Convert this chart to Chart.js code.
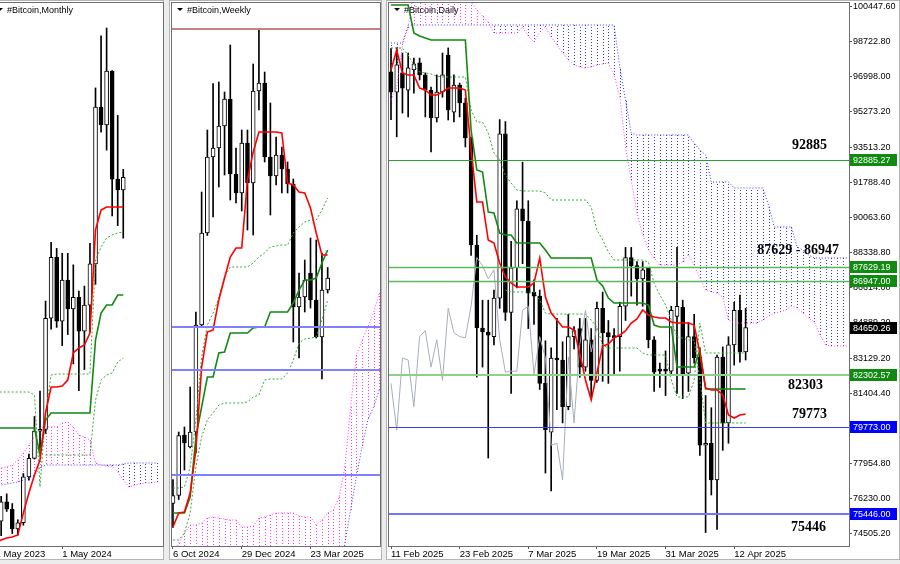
<!DOCTYPE html>
<html>
<head>
<meta charset="utf-8">
<title>#Bitcoin Ichimoku</title>
<script src="https://cdn.jsdelivr.net/npm/chart.js@4.4.1/dist/chart.umd.min.js"></script>
<style>
  html, body { margin: 0; padding: 0; }
  body { width: 900px; height: 564px; background: #ececec; position: relative; overflow: hidden; }
  .panel { position: absolute; top: 0; height: 560px; background: #fff; box-shadow: inset 0 0 0 1px #b4b4b4; }
  .panel canvas { position: absolute; left: 0; top: 0; }
</style>
</head>
<body>
<div class="panel" style="left:-10px;width:174px"><canvas id="monthly" width="174" height="560"></canvas></div>
<div class="panel" style="left:169px;width:213px"><canvas id="weekly" width="213" height="560"></canvas></div>
<div class="panel" style="left:386px;width:514px"><canvas id="daily" width="514" height="560"></canvas></div>
<script>
// ---------- Monthly: May 2023 .. Apr 2025 (cloud runs on to Oct 2025) ----------
const mTickIdx = [0, 12];
const mTickText = ['1 May 2023', '1 May 2024'];
const mOpen  = [29250, 27220, 30480, 29230, 25930, 26970, 34640, 37720, 42280, 42580, 61130, 71290, 60640, 67490, 62680, 64620, 58970, 63330, 70220, 96410, 93430, 102400, 84350, 82550];
const mHigh  = [29820, 31390, 31800, 30180, 27480, 35200, 38430, 44720, 48970, 63990, 73790, 72800, 71980, 71960, 70050, 65650, 66500, 73620, 99590, 108300, 109600, 102500, 95000, 86000];
const mLow   = [25810, 24800, 28860, 25170, 24900, 26560, 34100, 37620, 38520, 41880, 59320, 59600, 56560, 58400, 53500, 49050, 52550, 58900, 66800, 92200, 89200, 78200, 76600, 74500];
const mClose = [27220, 30480, 29230, 25930, 26970, 34640, 37720, 42280, 42580, 61130, 71290, 60640, 67490, 62680, 64620, 58970, 63330, 70220, 96410, 93430, 102400, 84350, 82550, 84650];
const mTenkan = [23595, 24096, 24430, 24597, 24931, 28605, 31945, 34951, 37456, 45305, 49647, 49647, 49814, 50816, 55325, 56160, 56661, 58665, 75866, 79206, 79707, 79707, 79707, 79707];
const mKijun  = [42800, 42800, 42800, 42800, 42800, 42800, 42800, 42800, 38291, 44136, 45305, 45305, 45305, 45305, 45305, 45305, 45305, 45305, 57496, 62005, 63341, 63341, 65011, 65011];
const mSpanA = [35953, 36120, 36287, 36621, 37456, 38625, 39961, 41297, 42800, 42967, 42967, 42967, 43635, 43802, 42967, 41631, 41297, 40796, 36955, 36621, 36454, 36454, 35452, 34116, 32947, 33281, 33448, 33615, 33615, 33782];
const mSpanB = [33114, 33281, 33448, 33615, 33782, 34116, 34450, 34951, 36120, 36621, 36621, 36621, 36621, 36621, 36621, 36621, 36621, 36621, 36621, 36621, 36621, 36621, 36621, 36788, 36955, 36955, 36955, 36955, 36955, 36955];
const mDot1 = [48812, 48812, 48812, 48812, 48812, 48812, 48812, 48311, 32947, 45305, 51651, 51818, 51818, 51818, 51818, 51818, 51818, 51818, 70856, 73027, 74530, 75031, 75365, 75532];
const mDot2 = [null, null, null, null, null, null, null, null, null, 38291, 38291, 38291, 38291, 38291, 38291, 38291, 38291, 38291, 47476, 50816, 51651, 51985, 53822, 54490];

// ---------- Weekly: 6 Oct 2024 .. 13 Apr 2025 ----------
const wTickIdx = [0, 12, 24];
const wTickText = ['6 Oct 2024', '29 Dec 2024', '23 Mar 2025'];
const wOpen  = [62100, 62900, 68950, 67750, 69250, 79950, 89150, 96750, 97650, 99850, 102550, 95050, 93150, 98150, 94150, 103350, 104150, 96750, 94850, 96950, 95550, 94050, 81750, 82750, 85150, 82450, 78750, 83450];
const wHigh  = [64500, 69250, 69750, 73750, 81250, 93250, 99450, 104100, 104250, 103250, 107950, 97650, 99450, 99450, 106050, 109550, 105250, 102150, 98750, 97750, 96250, 94550, 85150, 86450, 88650, 88450, 87150, 85700];
const wLow   = [59700, 62500, 65450, 67650, 67150, 79700, 88900, 90750, 93750, 94950, 92450, 92150, 91350, 89450, 88950, 101450, 96250, 90950, 93950, 93150, 93150, 78250, 76650, 81250, 81650, 78650, 74550, 83150];
const wClose = [62900, 68900, 68150, 69250, 79950, 89150, 96750, 97650, 99850, 102550, 95050, 93150, 98150, 94150, 103350, 104150, 96750, 94850, 96950, 95550, 94050, 81750, 82750, 84450, 82450, 78750, 83450, 84650];
const wTenkan = [59750, 61150, 61250, 63150, 67450, 75750, 79250, 79450, 82450, 84650, 86750, 87650, 87650, 94450, 97250, 99250, 99250, 99250, 99250, 99150, 94150, 93950, 93250, 93150, 91650, 89150, 86950, 86950];
const wKijun  = [61150, 61150, 61150, 62750, 68750, 71750, 74750, 74750, 77150, 77250, 79150, 79150, 79150, 79150, 79650, 79750, 79750, 81250, 81250, 81250, 81250, 82150, 83450, 84450, 84450, 84650, 86150, 87450];
const wSpanA = [56450, 58150, 59150, 59950, 59950, 60150, 60650, 60750, 60650, 60550, 60450, 60450, 59750, 59750, 59850, 60650, 60750, 60950, 61150, 61150, 61150, 61150, 60850, 60750, 60750, 59950, 60450, 61150, 61450, 62750, 65750, 71750, 76950, 78450, 79750, 81150, 83150];
const wSpanB = [52000, 52000, 52000, 52000, 52000, 52000, 52000, 52000, 52000, 52000, 52000, 52000, 52000, 52000, 52000, 52000, 52000, 52000, 52000, 52000, 52000, 52000, 52000, 52000, 52000, 52000, 52000, 52000, 52000, 52000, 58150, 61450, 64750, 67750, 70450, 71750, 73450];
const wDot1 = [63650, 63650, 63750, 65750, 70450, 76750, 79950, 81150, 82650, 84750, 85750, 85750, 85750, 85750, 86150, 86750, 87150, 87750, 87850, 87950, 87950, 89150, 89750, 90250, 90450, 90450, 91450, 92650];
const wDot2 = [58450, 58450, 59150, 61150, 65750, 68750, 70450, 71150, 71950, 72150, 72150, 72150, 72150, 72250, 72750, 72950, 74450, 74550, 74550, 74550, 75150, 76450, 78150, 78550, 78650, 78750, 80450, 82450];
const wLevels = [109550, 79773, 75446, 64950];

// ---------- Daily: 11 Feb 2025 .. 14 Apr 2025 (cloud runs on to 2 May) ----------
const dTickIdx = [0, 12, 24, 36, 48, 60];
const dTickText = ['11 Feb 2025', '23 Feb 2025', '7 Mar 2025', '19 Mar 2025', '31 Mar 2025', '12 Apr 2025'];
const dOpen  = [97250, 96250, 97200, 96350, 97350, 97700, 97100, 96350, 94980, 96260, 98080, 95270, 96600, 95720, 93990, 88720, 84630, 84430, 84200, 86100, 94200, 85400, 87600, 90500, 89900, 86400, 86200, 81900, 79500, 83150, 83050, 80750, 84200, 84600, 82700, 84050, 82050, 85600, 84400, 84250, 84200, 85700, 88100, 87700, 87050, 87600, 84050, 82600, 82600, 82500, 85200, 85650, 82400, 84200, 83200, 78850, 78950, 77140, 83200, 79950, 83800, 85500, 83450];
const dHigh  = [98400, 98430, 98180, 98180, 97930, 97930, 97200, 96500, 97100, 98180, 98430, 97100, 96700, 95960, 94040, 89200, 86000, 86000, 86500, 94900, 94800, 88900, 90900, 92800, 90900, 87000, 86500, 84000, 83650, 85100, 83950, 85300, 84700, 85100, 85100, 84600, 85900, 86400, 85000, 84600, 85900, 88600, 88600, 87900, 87900, 87600, 84200, 82900, 83500, 85700, 88600, 86000, 84900, 85300, 83650, 81300, 80700, 83300, 83700, 84200, 85900, 86250, 85600];
const dLow   = [94900, 94050, 95220, 95030, 96200, 96850, 95030, 93300, 94780, 96000, 94880, 94780, 95030, 93550, 88200, 82210, 82700, 78220, 83800, 85600, 85000, 81400, 86600, 87800, 84600, 84800, 81600, 77480, 76600, 80600, 79950, 80600, 83600, 82200, 82500, 81200, 81950, 82000, 81900, 82300, 82500, 85000, 86200, 85750, 85700, 83650, 81500, 81700, 81300, 82300, 81400, 81150, 81500, 82900, 78350, 74550, 76400, 74700, 78600, 78950, 82800, 82950, 83050];
const dClose = [96250, 97600, 96450, 97450, 97650, 97100, 96350, 94980, 96260, 97100, 95370, 96600, 95720, 93990, 88720, 84630, 84430, 84280, 86100, 94200, 85400, 87600, 90500, 89900, 86350, 86200, 81900, 79600, 83150, 83050, 80750, 84200, 84500, 82700, 84050, 82050, 85600, 84400, 84200, 84150, 85700, 88100, 87700, 87050, 87500, 84050, 82450, 82500, 82500, 85500, 85700, 82350, 84200, 83150, 78850, 78950, 77140, 83200, 79950, 83800, 85500, 83450, 84650];
const dTenkan = [97343, 98329, 97195, 97097, 97097, 96456, 96357, 96111, 96111, 96259, 96456, 96456, 96456, 96357, 93400, 90838, 90838, 88965, 88818, 87832, 87142, 86847, 86649, 86649, 86649, 86847, 88079, 86156, 85367, 85023, 84678, 84678, 84530, 83397, 82066, 81080, 82411, 83741, 83840, 84136, 84284, 84481, 84875, 85072, 85516, 85269, 85170, 85121, 85121, 84924, 84875, 84875, 84875, 84776, 83397, 81672, 81573, 81573, 81327, 80341, 80194, 80341, 80391];
const dKijun  = [100546, 100546, 100546, 100546, 99166, 99018, 98920, 98821, 98821, 98821, 98821, 98821, 98821, 98821, 94386, 92415, 92316, 90345, 90296, 89310, 89212, 89212, 88817, 88817, 88817, 88817, 88817, 88473, 88078, 88078, 88078, 88078, 88078, 88078, 88078, 88078, 86994, 86698, 86107, 85860, 85860, 85860, 85860, 85860, 85860, 85762, 84776, 84678, 84678, 84678, 82707, 82707, 82707, 82707, 83545, 81623, 81623, 81623, 81623, 81623, 81623, 81623, 81623];
const dSpanA = [95864, 96505, 98575, 99413, 101285, 101532, 101778, 101778, 101778, 101778, 101778, 101778, 101778, 101285, 100694, 100300, 100004, 99709, 99166, 99166, 99166, 99166, 99166, 99462, 99018, 98723, 99216, 99462, 98969, 98575, 98181, 97836, 97589, 97491, 97441, 97491, 97589, 97639, 97688, 97097, 96012, 93548, 91922, 90296, 89212, 88473, 88079, 87733, 87733, 87733, 87733, 87881, 88226, 87733, 87093, 86501, 86403, 86353, 86156, 85023, 84875, 84875, 84875, 84875, 84875, 85023, 85220, 85368, 85417, 85516, 85713, 85614, 85368, 85121, 84924, 84284, 83791, 83741, 83741, 83741, 83741];
const dSpanB = [98673, 98673, 98673, 99561, 99561, 99561, 99561, 99561, 99561, 99561, 99561, 99561, 99561, 99561, 99561, 99561, 99561, 99561, 99561, 99561, 99561, 99561, 99561, 99561, 99561, 99561, 99561, 99561, 99561, 99561, 99561, 99561, 99561, 99561, 99561, 99561, 99561, 99561, 99561, 99561, 97491, 95864, 94238, 94140, 94140, 94140, 94140, 94140, 94140, 94140, 94140, 94140, 94140, 93745, 93400, 93154, 91823, 91823, 91823, 91823, 91528, 91528, 91528, 91528, 91528, 91528, 90690, 89606, 89606, 89606, 89606, 88621, 88473, 88226, 88079, 88079, 88079, 88079, 88079, 88079, 88079];
const dDot1 = [98427, 98427, 98427, 98082, 97589, 97244, 97195, 97146, 97047, 96998, 96998, 96998, 96998, 96998, 95372, 94780, 94780, 94238, 93252, 92908, 92168, 91774, 91429, 91380, 91380, 91380, 91380, 91281, 90936, 90936, 90936, 90936, 90936, 90936, 90936, 90591, 89458, 88965, 88374, 87979, 87979, 87979, 87979, 87979, 87979, 87881, 86846, 86255, 85762, 85023, 84185, 84136, 84037, 84037, 82066, 79947, 79947, 79947, 79947, 79947, 79947, 79947, 79947];
const dDot2 = [null, null, null, null, null, null, null, null, null, null, null, null, null, null, null, null, null, null, null, null, 86501, 86403, 86403, 86403, 86403, 86403, 86008, 85367, 85318, 85318, 85318, 85318, 85318, 85318, 85318, 85023, 84678, 83791, 83643, 83643, 83643, 83643, 83643, 83643, 83397, 83298, 83298, 83298, 83298, 82066, 81228, 81228, 81228, 82066, 84875, 83397, 83397, 83397, 83397, 83397, 83397, 83397, 83397];
const dPriceTicks = [100447.60, 98722.80, 96998.00, 95273.20, 93513.20, 91788.40, 90063.60, 88338.80, 86614.00, 84889.20, 83129.20, 81404.40, 79679.60, 77954.80, 76230.00, 74505.20];
const dLevels = [92885.27, 87629.19, 86947.00, 82302.57, 79773.00, 75446.00];
const dTags = [92885.27, 87629.19, 86947.00, 84650.26, 82302.57, 79773.00, 75446.00];
const dNotes = ['92885', '87629 - 86947', '82303', '79773', '75446'];
const dNoteLevels = [92885.27, 87629.19, 82302.57, 79773.00, 75446.00];

// chikou span: the close series drawn 26 bars back
const dChikou = dClose.slice(26);

Chart.defaults.font.family = 'Liberation Sans';

const PINK = '#ff33ff';
const BLUE = '#3333ff';

function pts(arr) {
  return arr.map((v, i) => ({ x: i, y: v }));
}

function candles(o, h, l, c) {
  const wicks = o.map((_, i) => ({ x: i, y: [l[i], h[i]] }));
  const bodies = o.map((_, i) => ({ x: i, y: [o[i], c[i]] }));
  const fills = o.map((_, i) => (c[i] >= o[i] ? '#ffffff' : '#000000'));
  return [
    { type: 'bar', data: wicks, backgroundColor: '#000', borderWidth: 0, barThickness: 1, grouped: false, order: 2 },
    { type: 'bar', data: bodies, backgroundColor: fills, borderColor: '#000', borderWidth: 1,
      borderSkipped: false, barThickness: 4, grouped: false, order: 1 }
  ];
}

function line(arr, color, width, dash) {
  return { type: 'line', data: pts(arr), borderColor: color, borderWidth: width, borderDash: dash || [],
    pointRadius: 0, tension: 0, fill: false, spanGaps: false, order: 0 };
}

// dotted vertical hatching between the two senkou spans
function cloudPlugin(a, b) {
  return {
    id: 'cloud',
    beforeDatasetsDraw(chart) {
      const { ctx, chartArea: ca, scales: { x, y } } = chart;
      ctx.save();
      ctx.beginPath();
      ctx.rect(ca.left, ca.top, ca.right - ca.left, ca.bottom - ca.top);
      ctx.clip();
      ctx.lineWidth = 1;
      ctx.setLineDash([1, 2]);
      a.forEach((va, i) => {
        const vb = b[i];
        if (va == null || vb == null) return;
        const px = Math.round(x.getPixelForValue(i)) + 0.5;
        ctx.strokeStyle = va >= vb ? PINK : BLUE;
        ctx.beginPath();
        ctx.moveTo(px, y.getPixelForValue(va));
        ctx.lineTo(px, y.getPixelForValue(vb));
        ctx.stroke();
      });
      ctx.restore();
    }
  };
}

function levelsPlugin(values, colors, widths) {
  return {
    id: 'levels',
    afterDatasetsDraw(chart) {
      const { ctx, chartArea: ca, scales: { y } } = chart;
      ctx.save();
      values.forEach((v, i) => {
        const py = Math.round(y.getPixelForValue(v)) + (widths[i] % 2 ? 0.5 : 0);
        ctx.strokeStyle = colors[i];
        ctx.lineWidth = widths[i];
        ctx.beginPath();
        ctx.moveTo(ca.left, py);
        ctx.lineTo(ca.right, py);
        ctx.stroke();
      });
      ctx.restore();
    }
  };
}

function titlePlugin(text) {
  return {
    id: 'caption',
    beforeDatasetsDraw(chart) {
      const { ctx, chartArea: ca } = chart;
      ctx.save();
      ctx.fillStyle = '#000';
      ctx.beginPath();
      ctx.moveTo(ca.left + 5, ca.top + 5);
      ctx.lineTo(ca.left + 11, ca.top + 5);
      ctx.lineTo(ca.left + 8, ca.top + 8);
      ctx.closePath();
      ctx.fill();
      ctx.font = '9px "Liberation Sans"';
      ctx.fillText(text, ca.left + 15, ca.top + 10);
      ctx.restore();
    }
  };
}

function framePlugin() {
  return {
    id: 'frame',
    afterDraw(chart) {
      const { ctx, chartArea: ca } = chart;
      ctx.save();
      ctx.strokeStyle = '#6f6f6f';
      ctx.lineWidth = 1;
      ctx.strokeRect(Math.round(ca.left) - 0.5, Math.round(ca.top) - 0.5,
        Math.round(ca.right - ca.left) + 1, Math.round(ca.bottom - ca.top) + 1);
      ctx.restore();
    }
  };
}

function tagsPlugin(values, colors) {
  return {
    id: 'tags',
    afterDraw(chart) {
      const { ctx, chartArea: ca, scales: { y } } = chart;
      ctx.save();
      ctx.font = '9px "Liberation Sans"';
      ctx.textBaseline = 'middle';
      values.forEach((v, i) => {
        const py = Math.round(y.getPixelForValue(v));
        ctx.fillStyle = colors[i];
        ctx.fillRect(ca.right + 1, py - 6, chart.width - ca.right - 4, 12);
        ctx.fillStyle = '#fff';
        ctx.fillText(v.toFixed(2), ca.right + 4, py + 0.5);
      });
      ctx.restore();
    }
  };
}

function notesPlugin(texts, values, dy, dxRight) {
  return {
    id: 'notes',
    afterDraw(chart) {
      const { ctx, chartArea: ca, scales: { y } } = chart;
      ctx.save();
      ctx.font = 'bold 14px "Liberation Serif"';
      ctx.fillStyle = '#000';
      ctx.textAlign = 'right';
      texts.forEach((t, i) => {
        ctx.fillText(t, ca.right - dxRight[i], y.getPixelForValue(values[i]) + dy[i]);
      });
      ctx.restore();
    }
  };
}

function xAxis(min, max, tickIdx, tickText) {
  return {
    type: 'linear', min, max, offset: false, bounds: 'data',
    afterBuildTicks: s => { s.ticks = tickIdx.map(v => ({ value: v })); },
    afterFit: s => { s.height = 14; s.paddingLeft = 0; s.paddingRight = 0; },
    ticks: { autoSkip: false, maxRotation: 0, minRotation: 0, align: 'start', padding: 0, color: '#000',
      font: { size: 9.5, family: 'Liberation Sans' }, callback: (v, i) => tickText[i] },
    grid: { drawOnChartArea: false, drawTicks: true, tickLength: 3, color: '#555', offset: false },
    border: { display: true, color: '#555' }
  };
}

function hiddenY(min, max) {
  return { type: 'linear', display: false, min, max, beginAtZero: false, bounds: 'data' };
}

function makeChart(id, datasets, scales, padding, plugins) {
  return new Chart(document.getElementById(id), {
    type: 'bar',
    data: { datasets },
    options: {
      responsive: false,
      animation: false,
      events: [],
      layout: { padding },
      plugins: { legend: { display: false }, tooltip: { enabled: false } },
      scales
    },
    plugins
  });
}

// ---------- Monthly ----------
makeChart('monthly', [
  line(mTenkan, '#ff0000', 1.6),
  line(mKijun, '#128a12', 1.6),
  line(mDot1, '#33aa33', 1, [2, 2]),
  line(mDot2, '#33aa33', 1, [2, 2]),
  line(mSpanA, PINK, 1, [1, 2]),
  line(mSpanB, BLUE, 1, [1, 2]),
  ...candles(mOpen, mHigh, mLow, mClose)
], {
  x: xAxis(-0.65, 30.16, mTickIdx, mTickText),
  y: hiddenY(23094, 113775)
}, { left: 2, right: 1, top: 3, bottom: 0 },
[cloudPlugin(mSpanA, mSpanB), titlePlugin('#Bitcoin,Monthly'), framePlugin()]);

// ---------- Weekly ----------
makeChart('weekly', [
  line(wTenkan, '#ff0000', 1.6),
  line(wKijun, '#128a12', 1.6),
  line(wDot1, '#33aa33', 1, [2, 2]),
  line(wDot2, '#33aa33', 1, [2, 2]),
  line(wSpanA, PINK, 1, [1, 2]),
  line(wSpanB, BLUE, 1, [1, 2]),
  ...candles(wOpen, wHigh, wLow, wClose)
], {
  x: xAxis(-0.17, 36.13, wTickIdx, wTickText),
  y: hiddenY(57850, 112150)
}, { left: 3, right: 2, top: 3, bottom: 0 },
[cloudPlugin(wSpanA, wSpanB),
 levelsPlugin(wLevels, ['#c98080', '#8080ff', '#8080ff', '#8080ff'], [2, 2, 2, 2]),
 titlePlugin('#Bitcoin,Weekly'), framePlugin()]);

// ---------- Daily ----------
makeChart('daily', [
  line(dTenkan, '#ff0000', 1.6),
  line(dKijun, '#128a12', 1.6),
  line(dChikou, '#a7aebb', 1),
  line(dDot1, '#33aa33', 1, [2, 2]),
  line(dDot2, '#33aa33', 1, [2, 2]),
  line(dSpanA, PINK, 1, [1, 2]),
  line(dSpanB, BLUE, 1, [1, 2]),
  ...candles(dOpen, dHigh, dLow, dClose)
], {
  x: xAxis(-0.35, 80.07, dTickIdx, dTickText),
  y: {
    type: 'linear', position: 'right', min: 73885.7, max: 100644.7, beginAtZero: false, bounds: 'data',
    afterBuildTicks: s => { s.ticks = dPriceTicks.map(v => ({ value: v })); },
    afterFit: s => { s.width = 51; s.paddingTop = 0; s.paddingBottom = 0; },
    ticks: { autoSkip: false, padding: 1, color: '#000', font: { size: 9, family: 'Liberation Sans' },
      callback: v => v.toFixed(2) },
    grid: { drawOnChartArea: false, drawTicks: true, tickLength: 3, color: '#555' },
    border: { display: true, color: '#555' }
  }
}, { left: 3, right: 0, top: 3, bottom: 0 },
[cloudPlugin(dSpanA, dSpanB),
 titlePlugin('#Bitcoin,Daily'),
 levelsPlugin(dLevels, ['#2aa02a', '#5cb85c', '#5cb85c', '#8fd08f', '#3a3aff', '#7373ff'], [1, 1.5, 1.5, 2, 1, 2]),
 framePlugin(),
 tagsPlugin(dTags, ['#108a10', '#108a10', '#108a10', '#000000', '#108a10', '#0000ff', '#0000ff']),
 notesPlugin(dNotes, dNoteLevels, [-11, -13, 14, -9, 17], [22, 10, 26, 22, 23])]);
</script>
</body>
</html>
